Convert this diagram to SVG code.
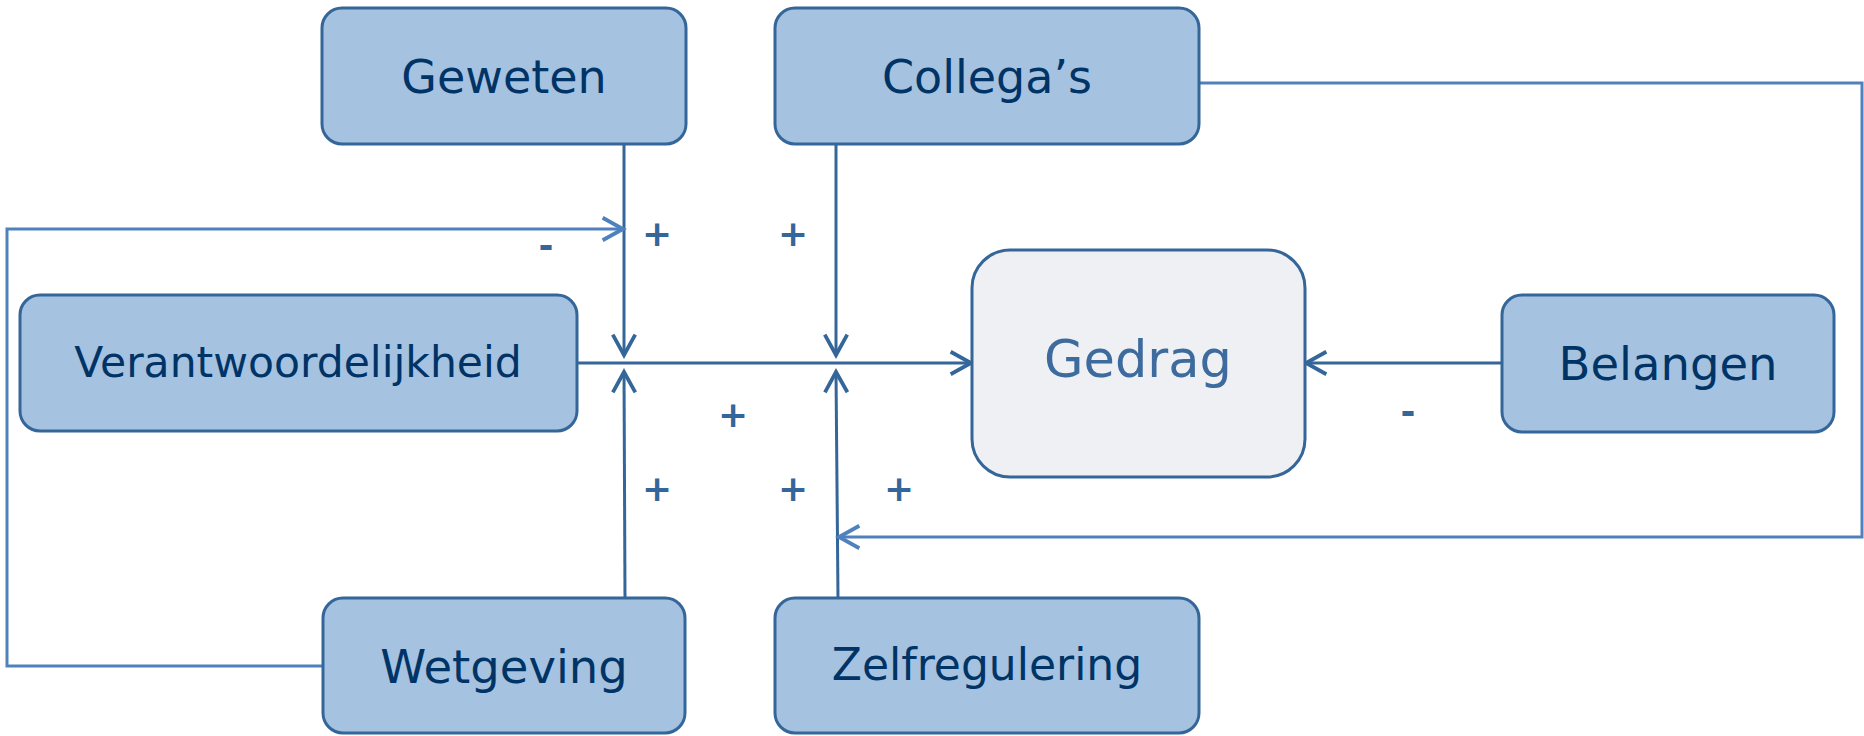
<svg xmlns="http://www.w3.org/2000/svg" width="1864" height="736" viewBox="0 0 1864 736">
<style>
.box{fill:#a5c2e0;stroke:#35669a;stroke-width:3}
.core{fill:#eff0f4;stroke:#35669a;stroke-width:3}
.lbl{font-family:"DejaVu Sans",Verdana,sans-serif;fill:#003366;text-anchor:middle}
.core-lbl{font-family:"DejaVu Sans",Verdana,sans-serif;fill:#3d6b9e;text-anchor:middle}
.sign{font-family:"DejaVu Sans",Verdana,sans-serif;fill:#35669a;font-size:36px;font-weight:bold;text-anchor:middle}
.main{fill:none;stroke:#35669a;stroke-width:3}
.fb{fill:none;stroke:#4f81bd;stroke-width:3}
</style>
<defs>
<marker id="arrDark" markerUnits="userSpaceOnUse" markerWidth="30" markerHeight="30" viewBox="-22 -14 26 28" refX="0" refY="0" orient="auto">
<path d="M-19,-10.5 L0,0 L-19,10.5" fill="none" stroke="#35669a" stroke-width="3.5"/>
</marker>
<marker id="arrLight" markerUnits="userSpaceOnUse" markerWidth="30" markerHeight="30" viewBox="-22 -14 26 28" refX="0" refY="0" orient="auto">
<path d="M-19,-10.5 L0,0 L-19,10.5" fill="none" stroke="#4f81bd" stroke-width="3.5"/>
</marker>
</defs>
<rect width="1864" height="736" fill="#ffffff"/>
<g id="connectors">
<line class="main" x1="624" y1="144" x2="624" y2="355" marker-end="url(#arrDark)"/>
<line class="main" x1="836" y1="144" x2="836" y2="355" marker-end="url(#arrDark)"/>
<line class="main" x1="625" y1="598" x2="624" y2="372" marker-end="url(#arrDark)"/>
<line class="main" x1="838" y1="598" x2="836" y2="372" marker-end="url(#arrDark)"/>
<line class="main" x1="577" y1="363" x2="971" y2="363" marker-end="url(#arrDark)"/>
<line class="main" x1="1501" y1="363" x2="1306" y2="363" marker-end="url(#arrDark)"/>
<polyline class="fb" points="322,666 7,666 7,229 623,229" marker-end="url(#arrLight)"/>
<polyline class="fb" points="1199,83 1862,83 1862,537 839,537" marker-end="url(#arrLight)"/>
</g>
<g id="signs">
<text class="sign" x="546" y="258">-</text>
<text class="sign" x="657" y="246">+</text>
<text class="sign" x="793" y="246">+</text>
<text class="sign" x="733" y="427">+</text>
<text class="sign" x="657" y="501">+</text>
<text class="sign" x="793" y="501">+</text>
<text class="sign" x="899" y="501">+</text>
<text class="sign" x="1408" y="424">-</text>
</g>
<g id="geweten">
<rect class="box" x="322" y="8" width="364" height="136" rx="20"/>
<text class="lbl" x="504" y="93" font-size="46">Geweten</text>
</g>
<g id="collegas">
<rect class="box" x="775" y="8" width="424" height="136" rx="20"/>
<text class="lbl" x="987" y="93" font-size="46">Collega’s</text>
</g>
<g id="verantwoordelijkheid">
<rect class="box" x="20" y="295" width="557" height="136" rx="20"/>
<text class="lbl" x="298" y="377" font-size="42.5">Verantwoordelijkheid</text>
</g>
<g id="gedrag">
<rect class="core" x="972" y="250" width="333" height="227" rx="38"/>
<text class="core-lbl" x="1138" y="377" font-size="51">Gedrag</text>
</g>
<g id="belangen">
<rect class="box" x="1502" y="295" width="332" height="137" rx="20"/>
<text class="lbl" x="1668" y="380" font-size="46.5">Belangen</text>
</g>
<g id="wetgeving">
<rect class="box" x="323" y="598" width="362" height="135" rx="20"/>
<text class="lbl" x="504" y="683" font-size="46.5">Wetgeving</text>
</g>
<g id="zelfregulering">
<rect class="box" x="775" y="598" width="424" height="135" rx="20"/>
<text class="lbl" x="987" y="680" font-size="44">Zelfregulering</text>
</g>
</svg>
